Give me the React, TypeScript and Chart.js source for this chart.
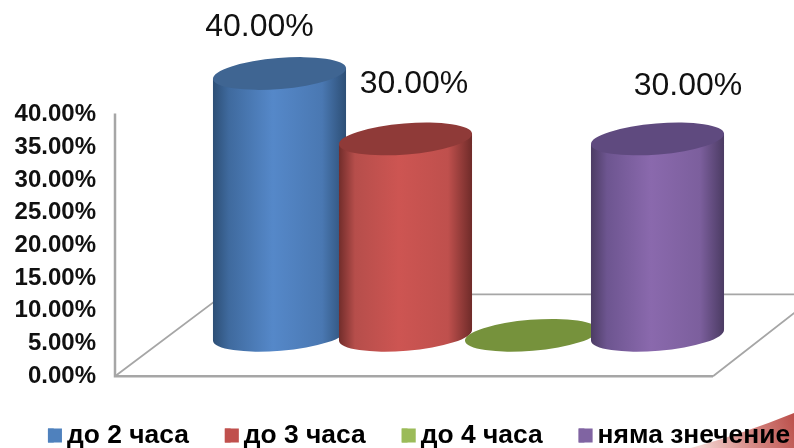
import React, { useEffect, useRef } from "react";
import { Chart, registerables } from "chart.js";

Chart.register(...registerables);

const categories = ["до 2 часа", "до 3 часа", "до 4 часа", "няма знечение"];
const shares = [0.4, 0.3, 0, 0.3];
const legendColors = ["#4f81bd", "#c0504d", "#9bbb59", "#8064a2"];
const capColors = ["#3f6592", "#8f3a38", "#76923c", "#5f4a7f"];
const sideStops = [
  ["#2d4f76", "#3f6a9e", "#5588c9", "#4a78b2", "#2d4f76"],
  ["#722d2b", "#b64e4b", "#cd5552", "#bf504d", "#6f2b29"],
  ["#76923c", "#76923c", "#76923c", "#76923c", "#76923c"],
  ["#4c3c64", "#6d5590", "#8a69ad", "#7c5f9d", "#4b3b63"],
];
const labelShiftX = [-20, 8.5, 0, 30.5];
const labelY = [27, 84, 0, 86];

const FONT = "'Liberation Sans', Arial, sans-serif";
const DEPTH_Y = 41;
const TILT = (4.7 * Math.PI) / 180;
const RY = 15.5;

function cylinder(ctx: CanvasRenderingContext2D, i: number, el: any) {
  const w = el.width;
  const left = el.x - w / 2;
  const right = el.x + w / 2;
  const topY = el.y - DEPTH_Y;
  const baseY = el.base - DEPTH_Y;
  const rx = w / 2 / Math.cos(TILT);
  const drop = (w / 2) * Math.tan(TILT);
  if (shares[i] > 0) {
    const g = ctx.createLinearGradient(left, 0, right, 0);
    const pos = [0, 0.12, 0.45, 0.82, 1];
    sideStops[i].forEach((c, k) => g.addColorStop(pos[k], c));
    ctx.beginPath();
    ctx.moveTo(left, topY + drop);
    ctx.lineTo(left, baseY + drop);
    ctx.ellipse(el.x, baseY, rx, RY, -TILT, Math.PI, 0, true);
    ctx.lineTo(right, topY - drop);
    ctx.closePath();
    ctx.fillStyle = g;
    ctx.fill();
  }
  ctx.beginPath();
  ctx.ellipse(el.x, topY, rx, RY, -TILT, 0, Math.PI * 2);
  ctx.fillStyle = capColors[i];
  ctx.fill();
}

const scenePlugin = {
  id: "scene",
  beforeDraw(chart: any) {
    const { ctx, width, height } = chart;
    ctx.save();
    ctx.fillStyle = "#ffffff";
    ctx.fillRect(0, 0, width, height);
    const g = ctx.createLinearGradient(700, 448, 794, 412);
    g.addColorStop(0, "#f3d3d0");
    g.addColorStop(0.5, "#d68a86");
    g.addColorStop(1, "#bb4f4a");
    ctx.beginPath();
    ctx.moveTo(691, 448);
    ctx.quadraticCurveTo(745, 433, 794, 413);
    ctx.lineTo(794, 448);
    ctx.closePath();
    ctx.fillStyle = g;
    ctx.fill();
    ctx.restore();
  },
  beforeDatasetsDraw(chart: any) {
    const { ctx, width, chartArea, scales } = chart;
    const y0 = scales.y.getPixelForValue(0);
    const yTop = scales.y.getPixelForValue(0.4);
    const ax = chartArea.left - 101.5;
    const fx = ax + 598;
    const backY = y0 - 82;
    ctx.save();
    ctx.strokeStyle = "#a6a6a6";
    ctx.lineWidth = 2.5;
    ctx.beginPath();
    ctx.moveTo(ax, yTop - 1);
    ctx.lineTo(ax, y0);
    ctx.lineTo(fx, y0);
    ctx.stroke();
    ctx.lineWidth = 1.8;
    ctx.beginPath();
    ctx.moveTo(ax, y0);
    ctx.lineTo(ax + 109, backY);
    ctx.lineTo(width, backY);
    ctx.moveTo(fx, y0);
    ctx.lineTo(fx + 105, backY);
    ctx.stroke();
    ctx.restore();
  },
  afterDatasetsDraw(chart: any) {
    const { ctx } = chart;
    const meta = chart.getDatasetMeta(0);
    ctx.save();
    meta.data.forEach((el: any, i: number) => cylinder(ctx, i, el));
    ctx.fillStyle = "#111111";
    ctx.font = `32px ${FONT}`;
    ctx.textAlign = "center";
    ctx.textBaseline = "middle";
    meta.data.forEach((el: any, i: number) => {
      if (shares[i] > 0) {
        ctx.fillText((shares[i] * 100).toFixed(2) + "%", el.x + labelShiftX[i], labelY[i]);
      }
    });
    ctx.restore();
  },
  afterDraw(chart: any) {
    const { ctx, legend } = chart;
    ctx.save();
    legend.legendHitBoxes.forEach((b: any, i: number) => {
      ctx.fillStyle = legendColors[i];
      ctx.fillRect(b.left, b.top + (b.height - 14) / 2, 14, 14);
    });
    ctx.restore();
  },
};

export default function App() {
  const ref = useRef<HTMLCanvasElement>(null);
  useEffect(() => {
    const chart = new Chart(ref.current!, {
      type: "bar",
      data: {
        labels: categories,
        datasets: [
          {
            label: "Дял",
            data: shares,
            backgroundColor: "rgba(0,0,0,0)",
            borderWidth: 0,
            barPercentage: 1.056,
            categoryPercentage: 1,
          },
        ],
      },
      options: {
        responsive: false,
        animation: false,
        devicePixelRatio: 1,
        layout: { autoPadding: false, padding: { left: 0, right: -44, top: 114.5, bottom: -10.7 } },
        plugins: {
          tooltip: { enabled: false },
          title: { display: false },
          legend: {
            display: true,
            position: "bottom",
            onClick: () => {},
            labels: {
              boxWidth: 5.8,
              boxHeight: 14,
              padding: 36,
              color: "#0a0a0a",
              font: { family: FONT, size: 26.4, weight: "bold" },
              generateLabels: () =>
                categories.map((text, i) => ({
                  text,
                  fillStyle: legendColors[i],
                  strokeStyle: legendColors[i],
                  lineWidth: 0,
                  index: i,
                  datasetIndex: 0,
                })),
            },
          },
        },
        scales: {
          x: {
            type: "category",
            offset: true,
            grid: { display: false },
            border: { display: false },
            ticks: { display: false },
            afterFit: (s: any) => {
              s.height = 10;
            },
          },
          y: {
            min: 0,
            max: 0.4,
            position: "left",
            grid: { display: false },
            border: { display: false },
            ticks: {
              stepSize: 0.05,
              autoSkip: false,
              padding: 112.5,
              color: "#111111",
              font: { family: FONT, size: 24, weight: "bold" },
              callback: (v: any) => (Number(v) * 100).toFixed(2) + "%",
            },
            afterFit: (s: any) => {
              s.width = 216.5;
              s.paddingTop = 0;
              s.paddingBottom = 0;
              s._margins = { left: 0, right: 0, top: 0, bottom: 0 };
            },
          },
          yRight: {
            position: "right",
            grid: { display: false },
            border: { display: false },
            ticks: { display: false },
            afterFit: (s: any) => {
              s.width = 117.5;
            },
          },
        },
      },
      plugins: [scenePlugin],
    } as any);
    return () => chart.destroy();
  }, []);
  return (
    <canvas
      ref={ref}
      width={794}
      height={448}
      style={{ position: "absolute", left: 0, top: 0, width: 794, height: 448, display: "block" }}
    />
  );
}
